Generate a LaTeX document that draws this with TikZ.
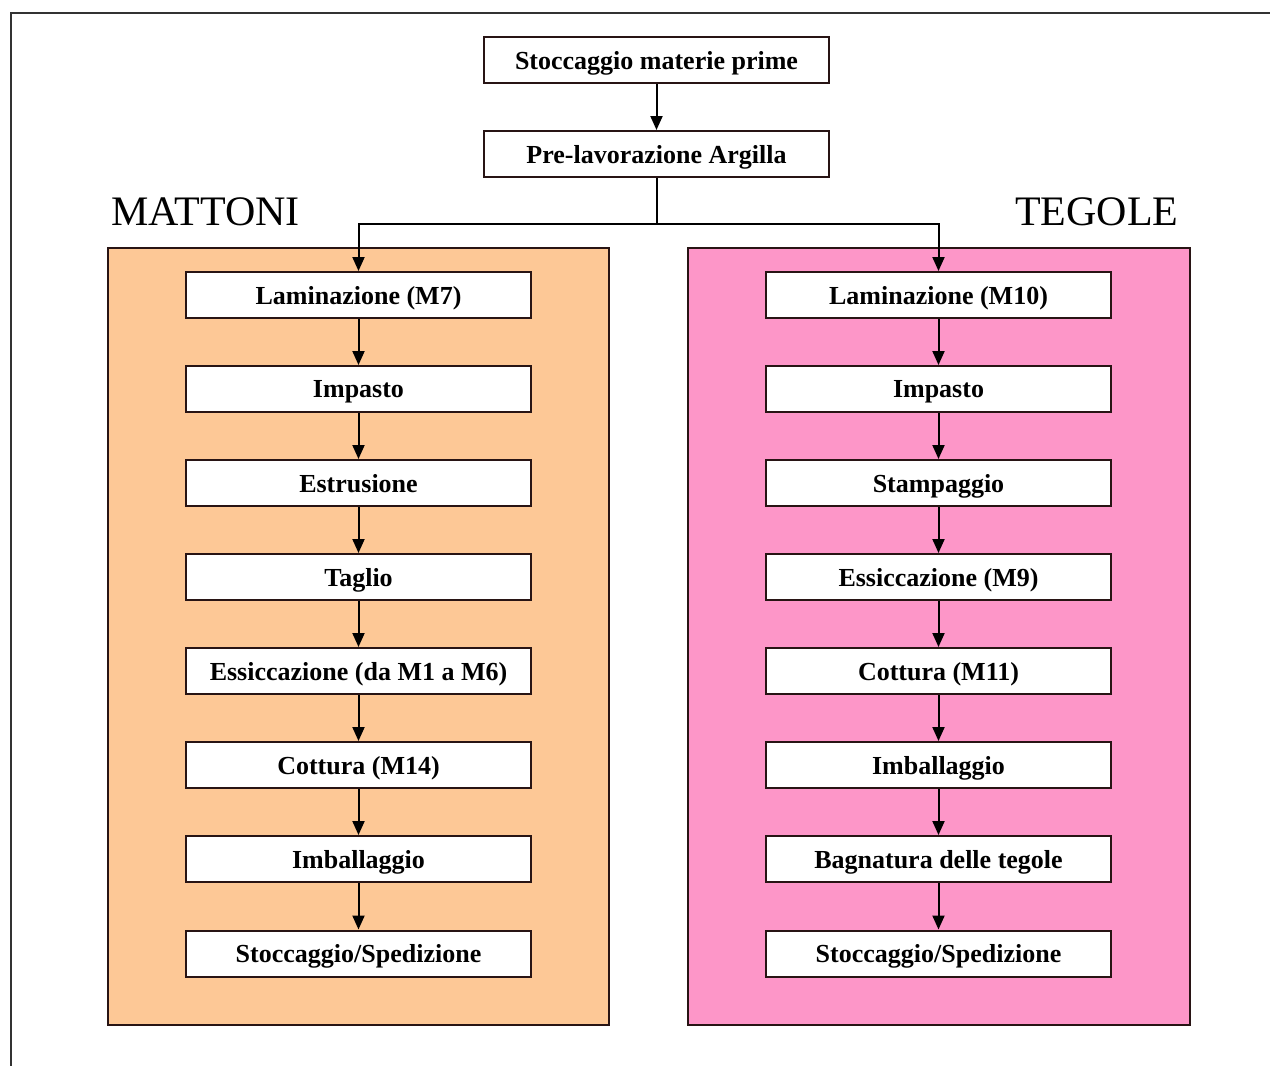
\documentclass[tikz,border=0pt]{standalone}
\usepackage{fontspec}
\setmainfont{Liberation Serif}
\usetikzlibrary{arrows.meta}
\definecolor{peach}{RGB}{253,200,150}
\definecolor{pinkbg}{RGB}{253,150,200}
\definecolor{edge}{RGB}{40,20,20}
\tikzset{
  stepbox/.style={draw=edge, line width=2pt, fill=white, minimum width=345pt, minimum height=46pt, inner sep=0pt, text depth=0pt, font=\fontsize{26}{30}\selectfont\bfseries},
  panel/.style={draw=edge, line width=2pt},
  flow/.style={draw=black, line width=2pt, -{Triangle[width=12pt,length=14pt]}},
  title/.style={font=\fontsize{42}{48}\selectfont, anchor=base}
}
\begin{document}
\begin{tikzpicture}[x=1pt,y=-1pt]
\useasboundingbox (0,0) rectangle (1270,1066);
\fill[white] (0,0) rectangle (1270,1066);
\draw[line width=2pt, black!80] (11,1070) -- (11,13) -- (1275,13);
% panels
\draw[panel, fill=peach] (108,248) rectangle (609,1025);
\draw[panel, fill=pinkbg] (688,248) rectangle (1190,1025);
% titles
\node[title, anchor=base west] (tm) at (108,225) {MATTONI};
\node[title, anchor=base east] (tt) at (1182,225) {TEGOLE};
% top boxes
\node[stepbox] (s0) at (656.5,60) {Stoccaggio materie prime};
\node[stepbox] (s1) at (656.5,154) {Pre-lavorazione Argilla};
\draw[flow] (s0) -- (s1);
% left column
\node[stepbox] (m1) at (358.5,295) {Laminazione (M7)};
\node[stepbox] (m2) at (358.5,389) {Impasto};
\node[stepbox] (m3) at (358.5,483) {Estrusione};
\node[stepbox] (m4) at (358.5,577) {Taglio};
\node[stepbox] (m5) at (358.5,671) {Essiccazione (da M1 a M6)};
\node[stepbox] (m6) at (358.5,765) {Cottura (M14)};
\node[stepbox] (m7) at (358.5,859) {Imballaggio};
\node[stepbox] (m8) at (358.5,953.5) {Stoccaggio/Spedizione};
% right column
\node[stepbox] (t1) at (938.5,295) {Laminazione (M10)};
\node[stepbox] (t2) at (938.5,389) {Impasto};
\node[stepbox] (t3) at (938.5,483) {Stampaggio};
\node[stepbox] (t4) at (938.5,577) {Essiccazione (M9)};
\node[stepbox] (t5) at (938.5,671) {Cottura (M11)};
\node[stepbox] (t6) at (938.5,765) {Imballaggio};
\node[stepbox] (t7) at (938.5,859) {Bagnatura delle tegole};
\node[stepbox] (t8) at (938.5,953.5) {Stoccaggio/Spedizione};
\foreach \a/\b in {m1/m2,m2/m3,m3/m4,m4/m5,m5/m6,m6/m7,m7/m8,t1/t2,t2/t3,t3/t4,t4/t5,t5/t6,t6/t7,t7/t8}
  \draw[flow] (\a) -- (\b);
% split
\coordinate (j) at (656.5,224);
\draw[line width=2pt] (s1.south) -- (j);
\draw[flow] (j) -| (m1.north);
\draw[flow] (j) -| (t1.north);
\end{tikzpicture}
\end{document}
